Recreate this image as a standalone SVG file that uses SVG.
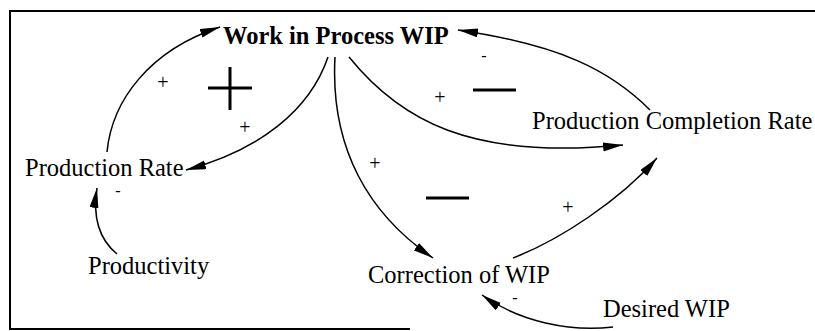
<svg xmlns="http://www.w3.org/2000/svg" width="815" height="331" viewBox="0 0 815 331">
  <defs>
    <marker id="arr" markerUnits="userSpaceOnUse" markerWidth="22" markerHeight="10" refX="20" refY="4.5" orient="auto">
      <path d="M0,0 L20,4.5 L0,9 z" fill="#000"/>
    </marker>
    <style>
      .lbl { font-family: "Liberation Serif", "Times New Roman", serif; font-size: 24.5px; fill: #000; }
      .bold { font-weight: bold; }
      .sign { font-family: "Liberation Serif", "Times New Roman", serif; font-size: 20px; fill: #000; text-anchor: middle; }
      .minus { font-size: 16px; }
      .link { fill: none; stroke: #000; stroke-width: 1.5; marker-end: url(#arr); }
      .big { stroke: #000; stroke-width: 3; fill: none; }
      .frame { stroke: #000; stroke-width: 2; fill: none; }
    </style>
  </defs>
  <rect width="815" height="331" fill="#fff"/>
  <g id="frame">
    <path class="frame" d="M815,11 L10,11 L10,329 L410,329"/>
  </g>
  <g id="connectors">
    <path class="link" d="M107,152 C112,100 150,50 220,27"/>
    <path class="link" d="M328,57 C310,110 260,150 186,170"/>
    <path class="link" d="M335,57 C330,150 370,215 433,258"/>
    <path class="link" d="M349,57 C400,120 470,160 623,145"/>
    <path class="link" d="M650,110 C610,70 560,45 458,30"/>
    <path class="link" d="M513,258 C560,240 620,200 657,158"/>
    <path class="link" d="M613,327 C570,332 520,322 482,295"/>
    <path class="link" d="M117,254 C100,240 92,220 97,188"/>
  </g>
  <g id="wip"><text class="lbl bold" x="223" y="44">Work in Process WIP</text></g>
  <g id="production-rate"><text class="lbl" x="25" y="176">Production Rate</text></g>
  <g id="productivity"><text class="lbl" x="88" y="274">Productivity</text></g>
  <g id="production-completion-rate"><text class="lbl" x="532" y="129">Production Completion Rate</text></g>
  <g id="correction-of-wip"><text class="lbl" x="368" y="283">Correction of WIP</text></g>
  <g id="desired-wip"><text class="lbl" x="603" y="317">Desired WIP</text></g>
  <g id="signs">
    <text class="sign" x="163" y="89">+</text>
    <text class="sign" x="245" y="134">+</text>
    <text class="sign" x="375" y="170">+</text>
    <text class="sign" x="440" y="104">+</text>
    <text class="sign" x="568" y="214">+</text>
    <text class="sign minus" x="484" y="61">-</text>
    <text class="sign minus" x="118" y="196">-</text>
    <text class="sign minus" x="515" y="303">-</text>
    <path class="big" d="M208,88 L252,88 M230,67 L230,110"/>
    <path class="big" d="M473,90 L516,90"/>
    <path class="big" d="M426,198 L469,198"/>
  </g>
</svg>
